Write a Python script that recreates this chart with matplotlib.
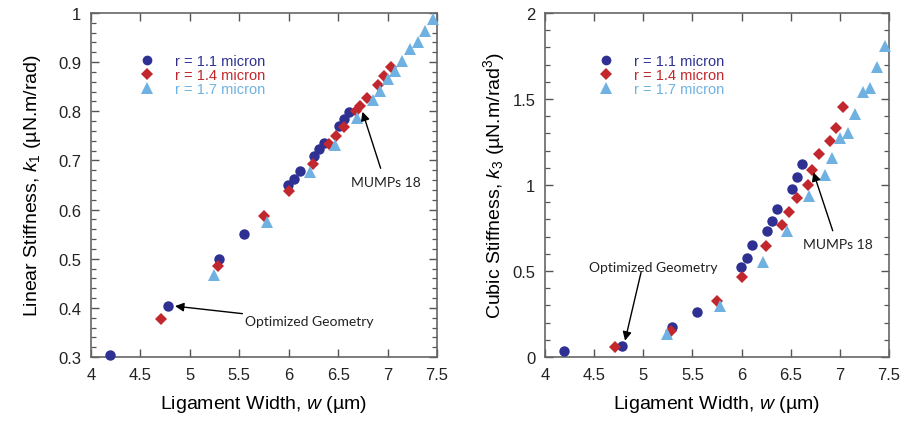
import matplotlib
matplotlib.use("Agg")
import matplotlib.pyplot as plt
from matplotlib.ticker import MultipleLocator, FuncFormatter
from matplotlib.lines import Line2D

plt.rcParams['font.family'] = ['Liberation Sans', 'DejaVu Sans']
plt.rcParams['mathtext.fontset'] = 'custom'
plt.rcParams['mathtext.rm'] = 'Liberation Sans'
plt.rcParams['mathtext.it'] = 'Liberation Sans:italic'

# Ligament width (micron) for each fillet radius
w_r11 = [4.19, 4.78, 5.29, 5.55, 5.99, 6.05, 6.11, 6.26, 6.31, 6.36, 6.51, 6.56, 6.61]
w_r14 = [4.71, 5.28, 5.75, 6.00, 6.25, 6.41, 6.48, 6.56, 6.68, 6.72, 6.79, 6.90, 6.96, 7.03]
w_r17 = [5.24, 5.78, 6.22, 6.465, 6.69, 6.85, 6.92, 7.00, 7.08, 7.15, 7.23, 7.31, 7.38, 7.46]

# Linear stiffness k1 (uN.m/rad)
k1_r11 = [0.304, 0.403, 0.499, 0.550, 0.650, 0.663, 0.679, 0.709, 0.723, 0.736, 0.770, 0.784, 0.798]
k1_r14 = [0.377, 0.485, 0.586, 0.638, 0.693, 0.733, 0.750, 0.768, 0.800, 0.810, 0.827, 0.854, 0.871, 0.891]
k1_r17 = [0.467, 0.575, 0.677, 0.731, 0.786, 0.823, 0.842, 0.866, 0.881, 0.903, 0.927, 0.942, 0.964, 0.988]

# Cubic stiffness k3 (uN.m/rad^3)
k3_r11 = [0.033, 0.066, 0.172, 0.260, 0.525, 0.576, 0.651, 0.733, 0.790, 0.860, 0.977, 1.049, 1.122]
k3_r14 = [0.056, 0.153, 0.324, 0.463, 0.645, 0.768, 0.845, 0.923, 0.998, 1.090, 1.178, 1.254, 1.330, 1.456]
k3_r17 = [0.134, 0.295, 0.554, 0.732, 0.936, 1.060, 1.158, 1.271, 1.304, 1.413, 1.541, 1.563, 1.684, 1.810]

labels = ['r = 1.1 micron', 'r = 1.4 micron', 'r = 1.7 micron']
colors = ['#2e3192', '#c1272d', '#6fb2e2']
markers = ['o', 'D', '^']
msizes = [7.5, 6.3, 8.5]

fig = plt.figure(figsize=(9.07, 4.31), dpi=100)
ax1 = fig.add_axes([0.1003, 0.1694, 0.3815, 0.7981])
ax2 = fig.add_axes([0.6009, 0.1694, 0.3793, 0.7981])

ann_font = dict(family=['Lato', 'DejaVu Sans'], fontsize=10, color='#222222')
arrow = dict(arrowstyle='-|>', color='black', lw=1.0, mutation_scale=13,
             shrinkA=0, shrinkB=0)
fmt = FuncFormatter(lambda v, p: f'{v:g}')


def style(ax, ylo, yhi, ymajor, yminor):
    ax.set_xlim(4, 7.5)
    ax.set_ylim(ylo, yhi)
    ax.xaxis.set_major_locator(MultipleLocator(0.5))
    ax.yaxis.set_major_locator(MultipleLocator(ymajor))
    ax.yaxis.set_minor_locator(MultipleLocator(yminor))
    ax.xaxis.set_major_formatter(fmt)
    ax.yaxis.set_major_formatter(fmt)
    ax.tick_params(which='both', direction='in', top=True, right=True,
                   color='#555555', labelsize=12, labelcolor='#222222')
    ax.tick_params(which='major', length=6, width=1, pad=7)
    ax.tick_params(which='minor', length=3.5, width=0.9)
    for s in ax.spines.values():
        s.set_color('#666666')
        s.set_linewidth(1.2)
    ax.set_xlabel('Ligament Width, $w$ (µm)', fontsize=14, labelpad=8)


def scatter(ax, xs, ys, legend_x):
    for x, y, c, m, ms in zip(xs, ys, colors, markers, msizes):
        ax.plot(x, y, linestyle='none', marker=m, color=c, ms=ms,
                markeredgewidth=0, clip_on=False, zorder=3)
    handles = [Line2D([], [], linestyle='none', marker=m, color=c, ms=ms - 0.5,
                      markeredgewidth=0) for c, m, ms in zip(colors, markers, msizes)]
    ax.legend(handles, labels, loc='upper left', bbox_to_anchor=(legend_x, 0.88),
              frameon=False, fontsize=10.5, labelcolor=colors, handlelength=1.0,
              handletextpad=1.45, labelspacing=0.0, borderpad=0, borderaxespad=0)


# Linear stiffness panel
style(ax1, 0.3, 1.0, 0.1, 0.02)
scatter(ax1, [w_r11, w_r14, w_r17], [k1_r11, k1_r14, k1_r17], 0.14)
ax1.set_ylabel('Linear Stiffness, $k_1$ (µN.m/rad)', fontsize=14, labelpad=11)
ax1.annotate('Optimized Geometry', xy=(4.85, 0.4035), xytext=(5.56, 0.373),
             ha='left', va='center', arrowprops=arrow, **ann_font)
ax1.annotate('', xy=(6.746, 0.799), xytext=(6.93, 0.684), arrowprops=arrow)
ax1.text(6.98, 0.656, 'MUMPs 18', ha='center', va='center', **ann_font)

# Cubic stiffness panel
style(ax2, 0.0, 2.0, 0.5, 0.1)
scatter(ax2, [w_r11, w_r14, w_r17], [k3_r11, k3_r14, k3_r17], 0.155)
ax2.set_ylabel('Cubic Stiffness, $k_3$ (µN.m/rad$^3$)', fontsize=14, labelpad=4)
ax2.annotate('', xy=(4.814, 0.095), xytext=(4.977, 0.492), arrowprops=arrow)
ax2.text(5.10, 0.525, 'Optimized Geometry', ha='center', va='center', **ann_font)
ax2.annotate('', xy=(6.73, 1.074), xytext=(6.927, 0.734), arrowprops=arrow)
ax2.text(6.98, 0.657, 'MUMPs 18', ha='center', va='center', **ann_font)

fig.savefig('out.png', dpi=100)
